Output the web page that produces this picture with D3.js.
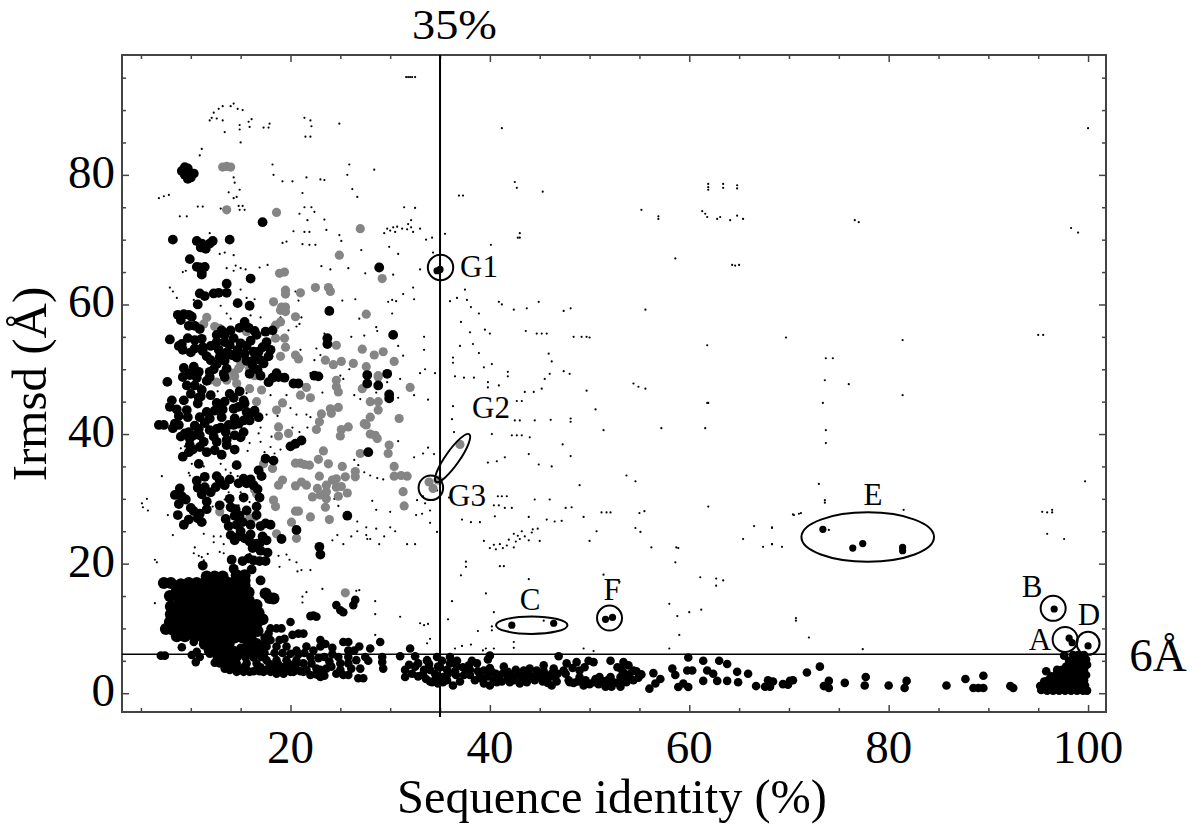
<!DOCTYPE html>
<html>
<head>
<meta charset="utf-8">
<script src="https://cdnjs.cloudflare.com/ajax/libs/d3/7.8.5/d3.min.js"></script>
<style>
  html, body { margin: 0; padding: 0; background: #fff; }
  text { font-family: "Liberation Serif", serif; fill: #000; }
</style>
</head>
<body>
<svg id="chart" width="1200" height="839"></svg>
<script>
// all values: [sequence identity %, Irmsd A]
var xTicks = [5,10,15,20,25,30,35,40,45,50,55,60,65,70,75,80,85,90,95,100];
var yTicks = [0,5,10,15,20,25,30,35,40,45,50,55,60,65,70,75,80,85,90,95];
var xLabels = [20,40,60,80,100];
var yLabels = [0,20,40,60,80];
var cutoffIdentity = 35;
var cutoffIrmsd = 6;

// grey points (drawn under the black ones)
var greyPoints = [
[13.6,81.3],[13.2,81.2],[14,81.2],[13.6,74.6],[18.6,74.2],[27,71.7],[24.9,67.6],[18.9,64.8],[19.4,65],[29.2,64],[19.5,62.2],[19.5,61.6],[21,61.8],[22.5,62.6],[23.8,62.6],[24,62],
[18.3,60.4],[19.1,59.6],[19.5,59.6],[19,59.1],[19.5,58.9],[27.6,58.5],[20.5,58.1],[19,57.3],[18.5,56.8],[11.6,58],[11.3,57],[12.4,56.6],[12.9,56.3],[15.3,56.6],[15.6,55.8],
[18.5,54.8],[19.4,54.8],[19.5,53.4],[24.6,53.7],[19,52],[20.5,52.2],[20.8,51.6],[23.5,51.4],[24.3,50.7],[25.1,51.2],[26.3,50.9],[27.2,53.1],[28.4,52.2],[29.3,52.7],[30.4,51.2],[27.6,50.4],[28.8,49],
[15.3,51.2],[14.8,50.1],[14.3,49.4],[15.9,50.1],[15,50.6],[14.4,48.9],[16.4,49],
[11.9,48.3],[12.6,48],[13.6,48.3],[14.6,47.8],[15.9,47],[17.1,46.8],[16.6,45],
[21.6,47.2],[21,46],[22,45.6],[24.6,47.3],[24.8,46.5],[24.6,48.3],[19.2,44.8],[18.6,43.7],[24,43.9],[24.8,44.1],[24.1,43.2],[23.1,43.1],[22.9,41.9],[22.6,40.7],
[28.8,48.8],[27.2,47],[32,47.2],[28,45],[28.8,45],[28.8,43.7],[28,42.6],[27.4,41.6],[27.6,41.4],[30.9,42.4],[25.8,41.1],[25.1,40.7],[28,40],[28.5,39.8],[28.7,39.3],[25,39.7],
[18.8,41.1],[18.8,39.7],[19.8,40.1],[23.3,37.4],[22.8,36.1],[23.8,35.4],[27,37],[29.9,38.3],[29.8,37],[20.5,35.5],[21,35.5],[21.4,35.3],[21.9,35.2],[25.2,35],[30.4,35],[18.2,34.7],[17.3,35.4],
[22.9,33.5],[25.5,33.4],[26.5,34.2],[26.5,33.4],[30.4,33.5],[31.1,33.6],[31.7,33.5],[19.2,32.9],[18.8,32.1],[21.1,32.6],[20.5,32],[21.6,32.1],[24.2,32.9],[24.6,33.1],[23.6,32.1],[24.6,31.8],[25.1,31.9],
[22.7,31.6],[22.2,30.3],[23,30.6],[23.6,31.1],[23.6,30],[24.8,30.4],[25.7,30.9],[31.3,31.1],[31.4,28.9],[34.3,31.6],[33.9,32.6],[34.8,32.9],[37,38.4],[23.5,28.7],[20.5,28.1],[20.8,28.1],[22,27.2],[23.9,26.8],
[18.3,29.8],[18.5,28.8],[16.6,30.8],[16.4,31.4],[12.9,28],[15.9,27],[16.4,27.2],[20.1,26.4],[18.6,24.6],[20.6,23.9],[25.5,15.5]
];

// big black points in the upper left cloud
var blackCloud = [
[9.7,80.2],[9.7,81],[9.7,79.4],[10.3,80.2],[8.2,70],[11.1,69.4],[11.9,69.4],[11.5,68.6],[13.9,70],[17.2,72.7],[9.9,67],[10.9,65.7],[11.4,65.8],[11.1,65],[16,64],[13.6,63.2],[28.9,65.7],
[10.9,61.7],[11.4,61.3],[12.3,61.7],[12.8,61.8],[13.6,61.8],[10.7,60],[14.7,60.2],[15.9,59.8],[9.3,58.5],[9.8,58.4],[10.1,58.1],[9.8,56.7],[10.4,56.7],[15.4,57.3],[23.9,59],[30.3,55.3],[23.7,54.8],[23.7,53.9],
[7.9,54.6],[8.8,53.6],[9.1,53.9],[9.7,54.8],[10.4,54.5],[11.1,54.7],[10.4,53.2],[12.6,55.3],[13.4,55.3],[12.6,54.2],[13.4,54.2],[12.8,53],[14.3,54.8],[13.9,53.7],[16.6,55.3],[17.5,55.8],[17.6,54.2],[16.8,52.7],[16.3,52.7],
[11.6,52],[15.4,52.4],[9.9,49.4],[10.8,49.6],[11.9,49.6],[13.6,50.1],[13.4,48.8],[17.3,50.9],[18.8,48.8],[19.4,48.7],[18.2,48.7],[22.8,48.9],[22.4,49],[29.7,49.3],[27.7,49.1],
[7.65,48.05],[9.9,49.1],[9.6,47.5],[10.4,47.5],[11.1,46.8],[11.9,48.8],[13.3,49.3],[8.1,45.2],[7.9,44.2],[9.3,45.2],[10.7,44.7],[9.6,43.7],[9.7,42.6],[11.6,43.4],[10.9,42.6],[11.9,42.4],[13.1,42.6],
[14.3,43.9],[14.8,44.2],[15.3,45.2],[15.4,44.7],[14.4,42.4],[15.3,42.1],[15.9,42.1],[14.8,41.6],[14.3,41.4],[6.8,41.4],[7.3,41.4],[8.4,41.6],[8.2,40.9],[8.8,41.4],[9.8,40.3],[10.3,39.8],[10.9,39.8],[9.4,40.1],[9.9,39.3],[9.8,37.2],[9.9,38.3],
[11.9,40.6],[12.6,40.8],[12.3,39.6],[12.6,38.8],[10.9,38],[11.6,37.2],[12.4,37.5],[13.6,39.1],[13.6,38.3],[14.4,37.6],[15.3,40.3],[20.8,47.8],[20.3,47.8],[27.7,47.8],[28.8,47.5],[29.9,45.5],[29.9,46.1],
[17.5,36.2],[18.3,35.9],[16.8,34.4],[14.6,35.2],[10.8,35.4],[11.4,33.4],[12.6,33.5],[10.7,31.7],[11.4,31.8],[12.5,31.8],[13.4,32.1],[14.8,32.4],[15.6,32.4],[16.3,32.1],[15.3,30.2],[13.9,30],
[8.9,31.6],[8.4,30.6],[9.1,30.4],[11.6,29.6],[12.9,29],[16.6,28.8],[8.7,27.5],[10.3,28.1],[10.9,27.7],[10.7,27],[11.1,26.4],[9.3,26],[14.4,27.4],[14.9,27.4],[14.6,26],[13.8,25.8],[16.6,27.5],[17.5,26.2],[18,26],
[14,24.4],[14.8,24.2],[15.4,23.9],[15.9,23.4],[16.6,23.1],[16.9,23.1],[17.6,23.6],[17.7,21.7],[16.3,20.5],[16.9,20.4],[14.1,20.6],[11.2,19.7],[14.3,19.2],[16.1,19.1],[17,17.4],
[20.6,25.2],[19.1,23.8],[22.9,22.6],[23,21.4],[25.7,27.4],[27.8,37.2],[20,38.1],[20.5,38.5],[21.1,39],
// second pass, the gaps between the blobs
[11.2,52.8],[12,51.4],[12.6,50.8],[12.9,51.9],[13.6,52.6],[14.1,52.2],[14.7,53],[15,54],[15.6,53.6],[16,54.4],[16.4,51.6],[17,51.4],[17.2,53.4],[15.9,49.3],[16.7,49.9],[17,49],[10.3,50.4],[9.3,50.2],[9.2,48.8],[10.6,48.7],[11.6,48.2],[12.3,50],[17.8,52],[17.8,48],
[8.6,43.8],[8.8,42.8],[10,46.2],[11,45.8],[12,46],[10.8,45.6],[12.6,44.8],[13.4,45],[13.9,46.2],[14.3,45.6],[14.9,46.6],[13.2,43.8],[12.4,43.6],[15.6,43.4],[16.4,43.6],[15.9,43],[16.8,42.6],[13.8,41.4],[13,41],[11.4,41.7],[10.4,41.3],[10.8,40.8],[9,39.6],[15,39.5],[14.4,39.8],[13.1,36.8],[11.3,38.8],[10.2,37.6],[9.2,36.5],[13.5,40.3],
[9.5,29.9],[8.8,29.2],[10.6,32.8],[11.1,30.7],[12,31],[12.9,32.9],[13.9,33],[15.3,33.1],[16,33],[16.7,31.5],[16.9,30.2],[17.1,33.5],[15.6,28.2],[14.5,28.4],[14,28.7],[10,28.6],[9.8,26.8],[11.6,28.4],[13.5,26.9],[15.2,26.4],[16,26],[17,25.8],[15,25],[14.4,23.6],[16,24.5],[17.2,24.2],[16.2,22.4],[17,22],[15.2,20.4],[15.8,20.8],[17.5,20.4],
[8.7,58.4],[9,57.6],[10.9,56.2],[13.1,56],[14,56],[14.9,56.4],[15.8,56.4],[16.4,55.9],[12,53.6],[11.2,53.4],[10,52.6],[18,53],[18.2,56],[15.6,51.3],[16.2,50.6],[14.6,51.8],[13.4,51.3],[9.2,53],[18.6,49.4],[11.1,64.6],[10.6,65.8],[11,68.8],[12.2,69.8],[10.6,69.8],[9.1,80.6],[9.4,80],[9.4,81.2],[10,79.6]
];

// the solid block under 18 A
var blackBlock = [
[11.6,18],[12.4,18],[13.2,18],[14.6,18.2],[15.4,18.2],[14.6,17.6],[15.4,17.4],
[7.3,17],[8,17],[9,16.8],[9.8,17],[10.6,17],[11.4,17],[12.2,17],[13,17],[13.8,17],[14.6,17],[15.4,16.6],
[8.6,15.8],[9.4,15.8],[10.2,15.8],[11,15.8],[11.8,15.8],[12.6,15.8],[13.4,15.8],[14.2,15.8],[15,15.8],[15.8,15.6],
[7.9,15],[8.8,14.6],[9.6,14.6],[10.4,14.6],[11.2,14.6],[12,14.6],[12.8,14.6],[13.6,14.6],[14.4,14.6],[15.2,14.6],[15.8,14.4],[17.5,15.4],[18.3,14.6],[17.9,14.7],
[8,13.4],[8.8,13.4],[9.6,13.4],[10.4,13.4],[11.2,13.4],[12,13.4],[12.8,13.4],[13.6,13.4],[14.4,13.4],[15.2,13.4],[16,13.4],[16.6,13.6],
[8,12.2],[8.8,12.2],[9.6,12.2],[10.4,12.2],[11.2,12.2],[12,12.2],[12.8,12.2],[13.6,12.2],[14.4,12.2],[15.2,12.2],[16,12.2],[16.8,12.4],
[7.9,11],[8.6,11],[9.4,11],[10.2,11],[11,11],[11.8,11],[12.6,11],[13.4,11],[14.2,11],[15,11],[15.8,11],[16.7,11],[17.2,11.4],
[7.5,9.9],[8.2,9.8],[9,9.8],[9.8,9.8],[10.6,9.8],[11.4,9.8],[12.2,9.8],[13,9.8],[13.8,9.8],[14.6,9.8],[15.4,9.8],[16.2,9.8],[16.7,9.6],
[8.6,8.8],[9.4,8.8],[10.4,8.7],[11.2,8.7],[12,8.7],[12.8,8.7],[13.6,8.7],[14.4,8.6],[15.2,8.6],[16,8.6],
[11.4,7.6],[12.2,7.5],[13,7.5],[13.8,7.6],[15.8,7.5],[16.6,7.6],[11.9,6.6],[12.6,6.5],[13.4,6.5],[14.3,6.4],[15.2,6.3],[16.2,6.4],[17,6.4]
];

// the band along the bottom, up to the block on the right
var blackBand = [
[7,5.8],[7.4,5.8],[9.1,7.1],[10.3,7.9],[10.6,6.4],[10.1,5.9],[10.9,5.6],[10.5,4.8],[12.6,5.6],[12.9,4.6],[13.4,3.8],[13.9,3.6],[14.6,3.3],[15.3,3.3],[15.9,3.3],[16.6,3.6],[17.3,3.3],[18,3.3],[18.6,3],[19.3,3],[20,3.3],[20.6,3.6],[21.3,3.3],[22,2.8],[23,2.5],[23,3.6],
[22.1,4.6],[21.3,4.6],[20.6,5.1],[19.6,5.1],[18.6,5.1],[17.6,5.1],[16.6,4.6],[15.6,4.6],[14.6,4.6],[13.6,5.1],[14.4,4],[15.3,4],[17,4],[18,4.2],[19.2,4],[20,4.4],[22.6,3.8],
[18.6,7.2],[17.6,7.2],[19.6,7.2],[20.6,6.6],[21.6,7.2],[23,8.2],[23,7.2],[22.3,6.6],[18,10],[18.6,10],[19.1,10],[20,11],[20.2,9],[20.8,9.2],[21.3,9.2],[22.3,12],[22.6,11.8],[22,11.9],[24.6,13.6],[25,12.8],[25.3,12.5],[26.5,14.4],[26.3,13.6],[25.3,7.9],[25.8,7.9],[26.9,7.2],[28,6.9],[29,7.9],
[24.1,4.1],[25,4.6],[25,3.6],[25.8,5.6],[25.8,4.6],[25.8,2.8],[26.6,5.1],[27,3.8],[26.8,2.3],[27.3,2.3],[25.3,2.8],[27.5,5.6],[29.2,5.6],[29.2,4.8],[29.3,3.8],[31,5.7],[32,6.9],[32.5,5.7],
[31.5,3.6],[31.5,2.5],[32.2,3],[32.8,4.6],[33.2,2.8],[33.7,5.1],[34,3.6],[34,1.8],[34.8,1.5],[34.8,4.1],[35.3,2.5],[36,5.6],[35.7,3.6],[36.3,1.2],[36.7,4.1],[32.5,4.1],
[33.7,5],[34.7,5.6],[33.3,2.8],[34.2,1.7],[35.3,1.7],[35,4],[34.5,3],[35.8,3],[36.7,5],[37.3,4],[38.2,5],[38.7,4.6],[40,5.8],[39.8,5.2],[38,2.8],[38.5,2],[39.4,1.5],[40,1.2],[39.4,3.5],[40.2,3.3],[40.7,1.7],[41,2.8],[41.4,4.1],[42,1.7],[42.4,3],[43,1.5],[43.7,1.7],[43.4,3.5],[44,3.8],[44.7,3.5],[44.5,2],[45.4,4.3],[45.5,2.8],[46.2,1.2],[46.5,2.5],[46.9,5.7],[46.4,3.8],[39,2.6],[41.8,2.4],[43.2,2.4],[45.3,1.8],
[47.4,3.5],[47.7,4.6],[48.7,4.8],[49.9,5],[50.4,4.8],[49,3.5],[48,1.7],[49.4,1.2],[49,2.5],[50.4,1.7],[51,2.5],[51.6,1],[52.2,1],[53.1,1],[52.1,5],[52.1,2.5],[53.1,2.5],[53.4,4.8],[53.9,4.3],[54.4,3.5],[53.7,1.7],[54.4,2],[55.2,2.9],[56.4,3.1],[57.1,2.2],[56.6,1.5],[56,0.7],[58.3,3.8],[58.6,2.8],[58.9,0.95],[59.4,1.5],[59.9,0.95],[59.9,5.5],[59.8,3.5],[60.3,3.5],[61.4,5],[61.4,1.9],[61.8,3.5],[62.4,3],[63,5],[62.8,1.9],[63.8,4.5],[63.8,1.9],[64.8,3.3],[64.9,1.7],[65.9,3],[66.7,1.1],
[67.6,1],[68.1,1],[68.4,1.8],[67.9,2],[69.4,1.4],[70.1,1.9],[69.9,1.3],[70.4,2],[73.1,4.1],[71.8,3.2],[74,1.9],[73.5,1.1],[74,0.8],[75.6,1.6],[77.7,2.5],[77.6,1.2],[80,1.2],[81.8,1.9],[81.6,0.8],[85.8,1.2],[87.7,2.2],[89.5,2.7],[88.5,0.8],[89,0.8],[89.5,0.8],[92.2,1.1],[92.5,0.8],
[95.8,3.4],[97.6,5.8],
[95.3,0.5],[95.9,0.4],[96.5,0.4],[97.1,0.4],[97.7,0.4],[98.3,0.4],[98.9,0.4],[99.5,0.4],[99.9,0.4],[95.5,1.2],[96.1,1.2],[96.7,1.2],[97.3,1.2],[97.9,1.2],[98.5,1.2],[99.1,1.2],[99.7,1.2],
[96,2],[96.6,2],[97.2,2],[97.8,2],[98.4,2],[99,2],[99.6,2],[96.8,2.8],[97.4,2.8],[98,2.8],[98.6,2.8],[99.2,2.8],[99.8,2.8],[97.4,3.6],[98,3.6],[98.4,3.6],[99,3.6],[99.6,3.6],[98.3,4.4],[98.9,4.4],[99.5,4.4],[99.9,4.4],[98.6,5.2],[99.2,5.2],[99.8,5.2],[99,5.9],[99.6,5.9],
// second pass, closes up the dense stretches
[11.9,6.1],[12.4,4.7],[13.1,5],[13.7,4.4],[14.1,5],[14.9,3.6],[15.6,3.6],[16.3,3.4],[16.9,3.4],[17.6,3.6],[18.4,3.8],[19,3.4],[19.7,3.6],[20.3,3.3],[21,3.4],[21.6,3.6],[22.6,2.9],[23.4,2.7],[23.6,3.8],[23.9,4.9],[23.4,5.6],[22.8,5.4],[22,5.6],[21.4,6.2],[20.8,6],[20,6.1],[19.2,6.2],[18.4,6.2],[17.4,6.2],[17.9,4.5],[18.8,4.4],[19.6,4.2],[20.6,4.6],[24.6,3],[24.8,5.6],[26.1,3.8],[26.4,6.6],[27.8,5],[25.8,6.6],
[31.9,4.4],[33.4,3.6],[33.9,4.5],[34.6,2.4],[35.7,2],[36.6,2.8],[33.6,2.2],[32.8,2.6],[36,4.6],[35.2,5],[36.5,3.4],[37.4,2.8],[37.7,3.4],[37,1.8],
[38.8,3.4],[39.2,2.2],[39.8,2.6],[40.4,2],[40.6,3],[41.2,1.8],[41.4,3.2],[41.8,3.3],[42.4,2],[42.8,2.8],[43.4,2.2],[43.8,3],[44.2,2.6],[44.9,2.6],[45.4,3.4],[45.8,2.2],[45.8,1.6],[46.2,3],[46.8,3],[46.7,1.8],[40,3.9],[42.6,3.6],[38,3.6],[37.9,4.3],
[47.9,2],[48.4,1.6],[48.8,1.8],[49.6,2],[50,1.4],[50.6,2.2],[50.9,1.4],[51.4,1.8],[51.8,2],[52.4,1.7],[52.8,1.6],[53.4,2],[53.4,3.2],[54,2.9],[54.9,2.4],[47.6,3],[48.3,3.9],[49.5,4],[52.8,4],[53.2,3.7],[54.7,3.4],[53.8,2.5],
[95.6,1.8],[96.3,2.6],[97,3.4],[97.8,4.1],[98.1,5],[98.5,5.9],[95.2,1.1],[96.9,3.6],
// under the block, where it runs into the band
[13.1,6],[13.9,5.8],[14.7,5.6],[15.5,5.5],[16.3,5.5],[17.1,5.6],[18,8.2],[18.9,8.2],[19.4,8.4],[17.4,8.6],[17.8,9.2],[23.5,7.6],[24.2,7],[24.2,6],[15,7],[16.2,7.1],[17.4,7.7]
];

// single structures inside the circled groups
var circledPoints = [
[35,65.4],[34.7,65.2],[42.2,10.5],[46.4,10.8],[51.6,11.4],[52.3,11.7],[73.4,25.3],[76.4,22.4],[77.4,23.1],[81.4,22.5],[81.4,22],[96.6,13],[98.1,8.5],[98.4,7.8],[100,7.3]
];

// very small specks
var specks = [
[31.6,95.1],[31.8,95.1],[32,95.1],[32.2,95.1],[32.5,95.1],[41.2,87.2],[42.5,78.9],[42.7,78],[45.3,77.4],[36.9,76.8],[37.3,76.8],
[61.9,78.6],[61.9,78.1],[61.9,77.7],[63.4,78.6],[63.4,78],[64.8,78.4],[64.8,77.9],[61.3,74.4],[61.6,74],[61.8,73.5],[62.8,73.2],[63.1,73.5],[64.1,73],[64.8,73.7],[65.4,73.2],[55.2,74.6],[56.9,73.2],[56.9,73.6],
[35.5,70.9],[34.2,70.3],[43,71],[43,70.3],[42.8,70.3],[40.1,69.2],[58.6,67.1],[64.3,66.1],[65,66.1],[32.5,74.9],[32.1,73],[31.8,72.4],[29.7,71.7],[30,71.4],[30.3,71.9],[30.5,71.2],[30.7,72],[31.2,71.7],[31.7,71.6],[32.1,71.9],[32.3,71.2],[33,71.7],[33.6,70],
[37.5,62.3],[36,60.5],[36.7,61],[37.7,60.7],[38.1,59.6],[38.9,58.6],[40.9,60.4],[41.2,60],[42.4,59.2],[43.7,59.4],[44.9,60.4],[47.4,59],[48.1,59.4],[55.6,59.2],[37.1,57.3],[38,55.7],[40,55.5],[39.5,56.1],[43.6,55.9],[44.7,55.5],[45.2,55.5],[45.7,55.5],[48.4,55],[49.2,55],[49.7,55],[50,54.9],[69.7,54.9],
[37,53.6],[38.3,53.9],[38.9,52.5],[36.3,51.8],[36.3,51],[40.2,50.8],[39.4,50.3],[45.9,52.4],[46.2,51.2],[36.5,48.9],[37.4,48.7],[38.4,48.7],[39.8,48],[39.8,47.2],[40.9,47.5],[41.8,49.6],[41.8,48.9],[45.5,48.5],[46,49.3],[47.4,49.7],[48,49.3],[54.4,47.8],[54.9,47.3],[55.6,47],[49.7,46.7],[45.2,47],[44.4,46.5],[43.5,46.5],[61.9,44.8],[42.7,45.1],[43.2,45.1],[36.3,44.3],[50.6,43.8],
[36.2,42.3],[42.5,42.1],[43,42.1],[44.5,42.1],[46.1,42.2],[48.1,42.4],[48.1,41.9],[51.4,40.6],[57.2,40.9],[61.6,40.9],[42.2,39.8],[42.7,39.8],[43.2,39.8],[44,39.5],[40.2,40],[36.4,40.3],[47.3,38.4],[48.1,36.6],[43.9,36.9],[41.5,36.4],[40.7,35.8],[39.8,35.6],[44.9,35.3],[46.2,35],[53.7,33.6],[54.6,32.7],[49,32.1],
[41.7,30.4],[41.2,30.4],[40.8,30.4],[44.5,29.9],[46,29.9],[61.9,28.8],[40.4,29],[40.9,29],[41.5,28.6],[42.2,28.6],[47.6,28.6],[48.2,28.7],[51.2,27.9],[51.7,27.9],[52.1,27.9],[55.5,28.1],[40.5,27.3],[43.9,27.2],[45.7,26.8],[46.5,26.5],[47.2,26.6],[49.4,27.2],[37.2,26.8],[38.1,26.4],[39,26.4],[70.5,27.5],[71,27.7],[66.5,25.8],[68.3,25.5],[54.6,25.5],[55.1,24.9],
[42.4,24.6],[44.2,24.8],[39.4,23.5],[41.7,22.8],[42.4,22.5],[43,23.8],[45,23.5],[50,23.5],[50.7,25],[58.7,22.5],[56.2,22.5],[65.4,23.8],[68.3,23],[69.3,22.6],[40,22.4],[40.6,22.2],[41,23],[41.9,23.7],[42.8,24.3],[43.5,24.2],[43.9,23.6],[44.3,25.3],[44.8,25.4],[43.2,25],[42.6,23.4],[41.3,22.4],[40.4,22.9],
[43.9,17.6],[51.4,18.3],[37.6,20.3],[37.6,19.5],[41,19.6],[41.4,19.6],[37.1,18.2],[39.6,15.4],[36.2,14.2],[35.8,11.4],[40.4,12.5],[38.8,9.6],[40.2,10.3],[40.2,9.7],[33.7,7.7],[42.4,7.9],[42.4,7],[49.4,6.9],[50.4,6.5],[58,6.9],[59,9],[58.8,11.9],[58,13.8],[60,12.5],[61.2,12.9],[61.1,17.9],[62.7,17.7],[62.7,16.6],[63.4,17.4],[45.4,11.2],[36.5,6.9],[37.2,7.3],[38.1,7.5],[39.3,6.6],[39.6,6.9],[40.4,6.9],
[73,32.3],[73.6,29.8],[73.6,29.4],[70.4,27.6],[71.2,27.8],[81.5,28.3],[74,25.2],[68.3,25.6],[67.4,22.6],[68.3,23],[70.7,11.6],[70.7,11.2],[72,8.6],[77.4,6.8],[95.4,28],[95.9,27.9],[96.4,28.3],[96.4,27.9],[95.9,24.6],[97.6,23.8],[99.7,32.7],
[73.7,51.7],[74.4,51.7],[73.6,48.3],[76,47.7],[81.4,54.5],[81.4,46],[73.4,44.8],[73.7,40.6],[73.7,38.6],[76.6,73],[77,72.7],[95,55.3],[95.5,55.3],[100,87.2],[98.3,71.8],[99,71.1],[61.8,53.7],[61.8,44.8],[64.6,66],[58.6,20.2],[58.9,22.4],[55,27.8],[53,17.2],
// top left arch and cloud
[14.3,91],[14,90.6],[14.7,90.2],[15.2,90],[13.2,90.6],[12.8,90.2],[12.3,89.6],[12.1,88.8],[11.9,88.4],[12.6,88.7],[13.2,88.4],[15.8,88.2],[16.1,88.6],[14.9,87.7],[14.9,87],[13.4,86.6],[15.9,87.4],[17.3,87.3],[17.8,87.3],[17.9,87.9],[21.4,88.8],[22,88.4],[22.1,87.5],[21.5,85.9],[22,85.9],[24.9,87.9],[15,85],[11.1,84],[10.9,83],
[18.2,81.6],[18.3,80],[19.2,79],[20.2,79],[14.3,79.6],[14.4,78.8],[14.9,77.7],[13.8,77.3],[14.6,76.6],[14.3,76.4],[6.8,76.4],[7.3,76.7],[7.8,76.9],[10.7,75.1],[11.2,75.1],[14.8,75.2],[15.2,75.2],[14.9,74.6],[15.4,74.6],[13,74.8],[8.9,73.6],[9.6,73.6],
[21.2,77.2],[21.6,79.6],[23,79.3],[23.4,79.2],[25.7,80],[25.9,81.6],[26.2,77.8],[26.7,76.6],[28.4,80.8],[31.4,75],[20.9,74],[21.4,75],[22.1,75],[22.4,74.3],[23.4,73.1],[20.3,71.3],[21.4,71.2],[21.9,71.2],[21.7,73],[23.6,71.5],[24.9,70.7],[25.1,69.8],[19.2,69.5],[19.6,69.7],[21.2,69.3],[21.9,69.2],[22.5,69.2],[27.1,68.4],[29.4,71],[29.9,68.9],[30.8,67.8],[33,65.4],[34.3,68],
[9.2,65],[9.5,65.2],[11.9,71],[12.9,67.8],[13.4,68],[14.3,67.6],[14.5,66],[15,65.6],[15.5,65.4],[13.6,65.6],[14.3,65.2],[16.9,65.7],[17.7,66.1],[23.1,65.9],[24,65.4],[25.8,65.6],[27.5,64.8],[30.3,64.6],[32.3,62.6],[31.3,61.6],[32.4,60.8],[30.2,60.7],[29.8,60.4],[30.6,60.5],
[7.9,62.6],[8.2,62],[8.6,61],[10.3,60.7],[15,62.3],[15.6,61],[16.4,60.8],[20.5,62],[20.8,60.6],[25.2,60.6],[26.5,60.8],[21.1,58],[20.9,57],[20.6,56.6],[19.8,56],[19,58],[13,59.8],[13.6,58.6],[14,57.8],[16,58.3],[17,58],[26.9,57.8],[28.6,56.5],[30.2,58.6],
[23.4,55.5],[23,52.2],[22.4,51.4],[21,53],[22.6,53.2],[26.1,55],[27.4,55.2],[28.7,55.9],[30.8,53.6],[31.3,52.1],[33.4,53],[33.4,55],[29.7,48],[31,48.5],[33,49.4],[33.5,50],[34.5,49.4],[25,49],[25.9,50],[25.3,48.5],[23.2,46.4],[22,49.4],[26.4,46],[27,45.4],[28.6,46.4],[30.8,45.6],[32.4,46],[33.8,45.3],
[11,47.6],[12.7,46.6],[15.6,46.3],[18,46],[19.6,46],[20,44],[18.7,42.8],[20.6,43],[21.6,43],[22,42.6],[21.7,41],[20.2,41],[20.9,40.3],[16.9,42.1],[17.6,43],[17,41],[16.8,40.1],[18.1,39.6],[17,38.8],[18,38],[15.9,38.6],[15.7,37.4],[17.4,37.2],[18.4,37],[19,37.6],
[9.6,39],[9,37.8],[9.4,38.1],[9.6,36.9],[10.1,35.4],[9.8,34],[9.9,33.6],[11.3,35],[13,35.4],[13.5,34.5],[14,34],[14.7,33.5],[13.8,31],[15,31],[15.9,29.5],[13.4,29.9],[14.8,29],[15.8,28.5],[12.2,28.8],[11,30.5],[5.1,29.3],[5.2,28.7],[5.7,28.2],[5.6,30],[7.1,33.5],[7.7,27.5],
[24.4,30],[24.8,28.9],[26.4,36],[26.8,35.2],[27.4,34.1],[28,33.6],[28.7,33.2],[29.3,33],[30.8,38.9],[32.4,36.4],[33.3,37],[33.8,37.9],[34.4,36.9],[33.3,30.4],[32.7,29.8],[33.5,29.3],[34,28.2],[33.2,27.7],[32.6,27.5],[34,26.3],[34.7,24.9],[28.2,29.7],[28.6,28.3],[30,28],[26.7,26.5],[27.6,25.6],[28.6,25.4],[30,25.6],[30.5,25],[29.4,24.2],[28,23.8],[26.1,24.2],[24.7,24.4],[24.2,23.6],[25.3,23],[27.7,23.8],[28.9,23],[31.7,23],[32.5,23],[26.7,25],[27.6,24.4],
[11.3,24.6],[12.3,24.2],[13,24.2],[12.3,23.3],[13.3,23],[10.4,22.5],[10.3,21.6],[10.8,21.2],[11.7,21.5],[12.9,21.8],[13.3,21.6],[6.4,20.6],[6.6,20.2],[8.2,24.4],[11.1,21],[15.9,21.5],[18.8,21.2],[20.6,20.2],[19.9,20.6],[19.6,21.4],[21.1,19],[18.9,19.5],[20.7,18.8],[22,19],[11.3,20.5],[12.6,18.5],
[21.6,15.6],[21.2,14.9],[21.2,14],[23.2,16.1],[26.6,15.8],[28.5,14.2],[28.5,12.2],[33,10.8],[33.4,10.5],[33.8,10.7],[28.5,9],[34,8.4],[31,11.8],[6.4,13.9],[26.9,15.9],[34.7,31.3],[35.9,30.2]
];

// circled groups: [name, identity, Irmsd]
var groupNames = ["G1","G2","G3","C","F","E","B","A","D"];
var groupX = [35.05,36.26,34.08,44.2,52,77.9,96.5,97.7,100];
var groupY = [65.7,36.3,31.7,10.5,11.6,24.1,13.1,8.3,7.7];

var width = 1200, height = 839;
var x = d3.scaleLinear().domain([3.1, 101.8]).range([122, 1106]);
var y = d3.scaleLinear().domain([-2.9, 98.5]).range([712, 55]);

var svg = d3.select("#chart");
var defs = svg.append("defs");
defs.append("filter").attr("id", "soft")
  .append("feGaussianBlur").attr("stdDeviation", 0.5);

var marks = svg.append("g").attr("filter", "url(#soft)");

function drawDots(rows, r, color) {
  marks.append("g").selectAll("circle")
    .data(rows)
    .enter().append("circle")
    .attr("cx", function (d) { return x(d[0]); })
    .attr("cy", function (d) { return y(d[1]); })
    .attr("r", r)
    .attr("fill", color);
}

drawDots(specks, 1.1, "#000");
drawDots(greyPoints, 4.6, "#858585");
drawDots(blackCloud, 4.9, "#000");
drawDots(blackBlock, 6, "#000");
drawDots(blackBand, 4.3, "#000");
drawDots(circledPoints, 3.6, "#000");

// frame and ticks
var frameColor = "#444";
svg.append("rect")
  .attr("x", 122).attr("y", 55).attr("width", 984).attr("height", 657)
  .attr("fill", "none").attr("stroke", frameColor).attr("stroke-width", 2);

function tickLen(v) { return v % 20 == 0 ? 7 : 4; }

function drawAxis(axis, tx, ty, values) {
  var g = svg.append("g").attr("transform", "translate(" + tx + "," + ty + ")")
    .call(axis.tickValues(values).tickFormat("").tickSizeOuter(0));
  g.select(".domain").remove();
  g.selectAll(".tick line").attr("stroke", frameColor).attr("stroke-width", 1.5);
  return g;
}

drawAxis(d3.axisBottom(x), 0, 712, xTicks).selectAll(".tick line").attr("y2", function (d) { return -tickLen(d); });
drawAxis(d3.axisTop(x), 0, 55, xTicks).selectAll(".tick line").attr("y2", function (d) { return tickLen(d); });
drawAxis(d3.axisLeft(y), 122, 0, yTicks).selectAll(".tick line").attr("x2", function (d) { return tickLen(d); });
drawAxis(d3.axisRight(y), 1106, 0, yTicks).selectAll(".tick line").attr("x2", function (d) { return -tickLen(d); });

// tick labels
svg.append("g").selectAll("text").data(xLabels).enter().append("text")
  .attr("x", function (d) { return x(d); })
  .attr("y", 763)
  .attr("text-anchor", "middle")
  .attr("font-size", 47)
  .text(function (d) { return d; });

svg.append("g").selectAll("text").data(yLabels).enter().append("text")
  .attr("x", 115)
  .attr("y", function (d) { return y(d) + 13; })
  .attr("text-anchor", "end")
  .attr("font-size", 47)
  .text(function (d) { return d; });

// axis titles
svg.append("text")
  .attr("x", 612).attr("y", 813)
  .attr("text-anchor", "middle")
  .attr("font-size", 48.4)
  .text("Sequence identity (%)");

svg.append("text")
  .attr("transform", "translate(46,384) rotate(-90)")
  .attr("text-anchor", "middle")
  .attr("font-size", 49)
  .text("Irmsd (Å)");

// cut-off lines
svg.append("line")
  .attr("x1", x(cutoffIdentity)).attr("x2", x(cutoffIdentity))
  .attr("y1", 55).attr("y2", 717)
  .attr("stroke", "#000").attr("stroke-width", 2);
svg.append("line")
  .attr("x1", 122).attr("x2", 1106)
  .attr("y1", y(cutoffIrmsd)).attr("y2", y(cutoffIrmsd))
  .attr("stroke", "#000").attr("stroke-width", 1.5);

// font kept a little smaller than the picture so the box stays on the page
svg.append("text").attr("x", 454.5).attr("y", 39)
  .attr("text-anchor", "middle").attr("font-size", 43)
  .attr("textLength", 85).attr("lengthAdjust", "spacingAndGlyphs")
  .text(cutoffIdentity + "%");
svg.append("text").attr("x", 1158).attr("y", 671)
  .attr("text-anchor", "middle").attr("font-size", 47)
  .text(cutoffIrmsd + "Å");

// circled groups
var ringSize = {G1:[12.7,12.7,0], G2:[29,7,-55], G3:[12.3,12.3,0], C:[35.7,8.7,0], F:[12.5,12.5,0], E:[66.3,24.7,0], B:[12.5,12.5,0], A:[12.5,12.5,0], D:[11.5,11.5,0]};
var labelAt = {G1:[479,277], G2:[491,418], G3:[467,506], C:[530,610], F:[612,600], E:[873,505], B:[1032,597], A:[1040,650], D:[1089,625]};

groupNames.forEach(function (name, i) {
  var s = ringSize[name];
  var g = svg.append("g")
    .attr("transform", "translate(" + x(groupX[i]) + "," + y(groupY[i]) + ") rotate(" + s[2] + ")");
  g.append("ellipse")
    .attr("rx", s[0]).attr("ry", s[1])
    .attr("fill", "none").attr("stroke", "#000").attr("stroke-width", 2);
  svg.append("text")
    .attr("x", labelAt[name][0]).attr("y", labelAt[name][1])
    .attr("text-anchor", "middle")
    .attr("font-size", 31)
    .text(name);
});
</script>
</body>
</html>
